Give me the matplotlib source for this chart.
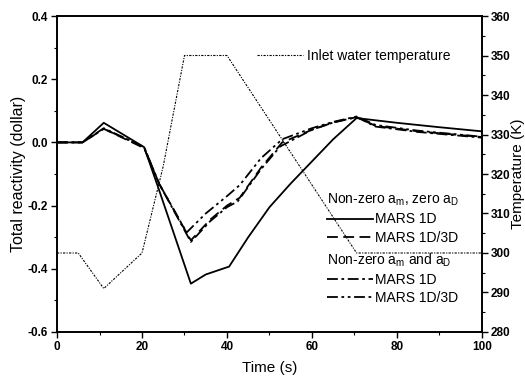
import matplotlib
matplotlib.use("Agg")
import matplotlib.pyplot as plt
from matplotlib.ticker import MultipleLocator

plt.rcParams['font.family'] = ['Liberation Sans', 'DejaVu Sans']
plt.rcParams['mathtext.fontset'] = 'custom'
plt.rcParams['mathtext.rm'] = 'Liberation Sans'
plt.rcParams['mathtext.it'] = 'Liberation Sans'

# Non-zero a_m, zero a_D : MARS 1D (solid)
t_s = [0, 6, 11, 20.5, 24, 31.5, 35, 40.5, 45, 50, 55, 60, 65, 70.5, 80, 90, 100]
r_s = [0, 0, 0.062, -0.015, -0.15, -0.447, -0.418, -0.393, -0.30, -0.205, -0.13, -0.06, 0.01, 0.077, 0.062, 0.048, 0.035]

# Non-zero a_m, zero a_D : MARS 1D/3D (dashed)
t_d = [0, 6, 11, 20.5, 24, 31.5, 36, 40, 43, 48, 53, 60, 65, 70.5, 75, 85, 100]
r_d = [0, 0, 0.043, -0.018, -0.13, -0.31, -0.245, -0.20, -0.175, -0.08, 0.0, 0.04, 0.063, 0.080, 0.052, 0.035, 0.017]

# Non-zero a_m and a_D : MARS 1D (dash-dot)
t_dd = [0, 6, 11, 20.5, 24, 31.5, 36, 40, 42.5, 48, 52.5, 60, 65, 70.5, 75, 85, 100]
r_dd = [0, 0, 0.045, -0.015, -0.13, -0.315, -0.25, -0.205, -0.187, -0.085, -0.013, 0.04, 0.063, 0.080, 0.050, 0.033, 0.015]

# Non-zero a_m and a_D : MARS 1D/3D (dash-dot-dot)
t_ddd = [0, 6, 11, 20.5, 24, 30.5, 35, 40, 43, 48, 53, 60, 65, 70.5, 75, 85, 100]
r_ddd = [0, 0, 0.043, -0.015, -0.13, -0.285, -0.225, -0.17, -0.135, -0.05, 0.01, 0.045, 0.065, 0.082, 0.055, 0.037, 0.018]

# Inlet water temperature (K)
t_T = [0, 5, 11, 20, 25, 30, 40, 70.5, 100]
T_in = [300, 300, 291, 300, 322, 350, 350, 300, 300]

fig = plt.figure(figsize=(5.25, 3.82), dpi=100)
ax = fig.add_axes([0.1086, 0.1309, 0.8094, 0.8272])
ax2 = ax.twinx()

lw = 1.3
l1, = ax.plot(t_s, r_s, color='black', lw=lw, ls='-')
l2, = ax.plot(t_d, r_d, color='black', lw=lw, ls=(0, (6, 3)))
l3, = ax.plot(t_dd, r_dd, color='black', lw=lw, ls=(0, (6, 2, 1.5, 2)))
l4, = ax.plot(t_ddd, r_ddd, color='black', lw=lw, ls=(0, (6, 2, 1.5, 2, 1.5, 2)))
lt, = ax2.plot(t_T, T_in, color='black', lw=0.8, ls=(0, (2, 1.2, 1, 1.2)))

ax.set_xlim(0, 100)
ax.set_ylim(-0.6, 0.4)
ax2.set_ylim(280, 360)

ax.xaxis.set_minor_locator(MultipleLocator(10))
ax.yaxis.set_minor_locator(MultipleLocator(0.1))
ax2.yaxis.set_major_locator(MultipleLocator(10))
ax2.yaxis.set_minor_locator(MultipleLocator(5))

ax.set_xticks([0, 20, 40, 60, 80, 100])
ax.set_xticklabels(['0', '20', '40', '60', '80', '100'])
ax.set_yticks([-0.6, -0.4, -0.2, 0.0, 0.2, 0.4])
ax.set_yticklabels(['-0.6', '-0.4', '-0.2', '0.0', '0.2', '0.4'])

for a in (ax, ax2):
    a.tick_params(which='major', direction='out', length=4, width=1.0, labelsize=8.5, pad=2.5)
    a.tick_params(which='minor', direction='out', length=2.5, width=0.8)
    for lab in a.get_xticklabels() + a.get_yticklabels():
        lab.set_fontweight('bold')
    for sp in a.spines.values():
        sp.set_linewidth(1.2)
ax.tick_params(top=False, which='both')
ax2.tick_params(top=False, which='both')

ax.set_xlabel('Time (s)', fontsize=11, labelpad=6)
ax.set_ylabel('Total reactivity (dollar)', fontsize=11.5, labelpad=1)
ax2.set_ylabel('Temperature (K)', fontsize=11, labelpad=0)

fs = 10
legT = ax2.legend([lt], ['Inlet water temperature'], loc='upper left',
                  bbox_to_anchor=(0.47, 0.895), frameon=False, fontsize=fs,
                  handlelength=3.3, handletextpad=0.3, borderaxespad=0, borderpad=0)
ax2.add_artist(legT)

legA = ax2.legend([l1, l2], ['MARS 1D', 'MARS 1D/3D'], loc='upper left',
                  bbox_to_anchor=(0.635, 0.445), frameon=False, fontsize=fs,
                  title='Non-zero a$_m$, zero a$_D$', title_fontsize=fs,
                  alignment='left', handlelength=3.3, handletextpad=0.15,
                  labelspacing=0.33, borderaxespad=0, borderpad=0)
ax2.add_artist(legA)
legB = ax2.legend([l3, l4], ['MARS 1D', 'MARS 1D/3D'], loc='upper left',
                  bbox_to_anchor=(0.635, 0.255), frameon=False, fontsize=fs,
                  title='Non-zero a$_m$ and a$_D$', title_fontsize=fs,
                  alignment='left', handlelength=3.3, handletextpad=0.15,
                  labelspacing=0.3, borderaxespad=0, borderpad=0)

fig.savefig('out.png', dpi=100)
